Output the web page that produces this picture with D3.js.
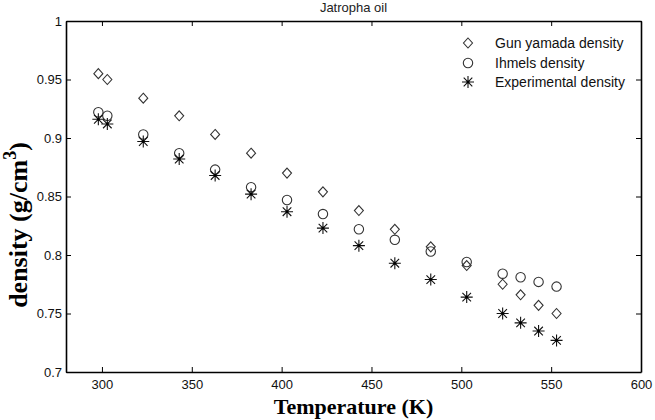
<!DOCTYPE html>
<html>
<head>
<meta charset="utf-8">
<script src="https://cdn.jsdelivr.net/npm/d3@7"></script>
<style>
  body { margin: 0; background: #fff; }
  svg { display: block; }
  .tick text { font-family: "Liberation Sans", Arial, sans-serif; font-size: 13px; fill: #111; }
  .axis path, .axis line { stroke: #000; }
</style>
</head>
<body>
<svg id="chart" width="655" height="420"></svg>
<script>
let WIDTH = 655, HEIGHT = 420;
let M = { top: 21, right: 14, bottom: 48, left: 66 };

// temperatures (K)
const temps = [298, 303, 323, 343, 363, 383, 403, 423, 443, 463, 483, 503, 523, 533, 543, 553];
// densities (g/cm3)
const gunYamada = [0.955, 0.950, 0.934, 0.919, 0.903, 0.887, 0.870, 0.854, 0.838, 0.822, 0.807, 0.791, 0.775, 0.766, 0.757, 0.750];
const ihmels = [0.922, 0.919, 0.903, 0.887, 0.873, 0.858, 0.847, 0.835, 0.822, 0.813, 0.803, 0.794, 0.784, 0.781, 0.777, 0.773];
const experimental = [0.916, 0.912, 0.897, 0.882, 0.868, 0.852, 0.837, 0.823, 0.808, 0.793, 0.779, 0.764, 0.750, 0.742, 0.735, 0.727];

const xTicks = [300, 350, 400, 450, 500, 550, 600];
const yTicks = [0.7, 0.75, 0.8, 0.85, 0.9, 0.95, 1];
const seriesNames = ["Gun yamada density", "Ihmels density", "Experimental density"];

let svg = d3.select("#chart");
let plotW = WIDTH - M.left - M.right;
let plotH = HEIGHT - M.top - M.bottom;

let x = d3.scaleLinear().domain([280, 600]).range([M.left, M.left + plotW]);
let y = d3.scaleLinear().domain([0.7, 1]).range([M.top + plotH, M.top]);

function drawAxes() {
    let fmtY = d3.format("");
    svg.append("g").attr("class", "axis")
        .attr("transform", `translate(0,${M.top + plotH})`)
        .call(d3.axisBottom(x).tickValues(xTicks).tickSizeInner(-5).tickSizeOuter(0).tickPadding(8));
    svg.append("g").attr("class", "axis")
        .attr("transform", `translate(0,${M.top})`)
        .call(d3.axisTop(x).tickValues(xTicks).tickSizeInner(-5).tickSizeOuter(0).tickFormat(""));
    svg.append("g").attr("class", "axis")
        .attr("transform", `translate(${M.left},0)`)
        .call(d3.axisLeft(y).tickValues(yTicks).tickSizeInner(-5).tickSizeOuter(0).tickPadding(4).tickFormat(d => fmtY(+d.toFixed(2))));
    svg.append("g").attr("class", "axis")
        .attr("transform", `translate(${M.left + plotW},0)`)
        .call(d3.axisRight(y).tickValues(yTicks).tickSizeInner(-5).tickSizeOuter(0).tickFormat(""));
    svg.selectAll(".axis path").attr("stroke-width", 1.6);
    svg.selectAll(".axis .tick line").attr("stroke-width", 1);
}

// marker painters
function diamond(g, cx, cy) {
    g.append("path")
        .attr("d", `M${cx},${cy - 5} L${cx + 4.5},${cy} L${cx},${cy + 5} L${cx - 4.5},${cy} Z`)
        .attr("fill", "none").attr("stroke", "#333").attr("stroke-width", 1.1);
}
function circle(g, cx, cy) {
    g.append("circle").attr("cx", cx).attr("cy", cy).attr("r", 4.7)
        .attr("fill", "none").attr("stroke", "#333").attr("stroke-width", 1.1);
}
function star(g, cx, cy) {
    let r = 6, d = 4.3;
    g.append("path")
        .attr("d", `M${cx - r},${cy} H${cx + r} M${cx},${cy - r} V${cy + r} ` +
                   `M${cx - d},${cy - d} L${cx + d},${cy + d} M${cx - d},${cy + d} L${cx + d},${cy - d}`)
        .attr("stroke", "#111").attr("stroke-width", 1.1).attr("fill", "none");
    g.append("circle").attr("cx", cx).attr("cy", cy).attr("r", 1.3).attr("fill", "#000");
}

const painters = [diamond, circle, star];
const seriesData = [gunYamada, ihmels, experimental];

function drawPoints() {
    seriesData.forEach(function (vals, i) {
        let g = svg.append("g").attr("class", "series-" + i);
        temps.forEach(function (t, j) {
            painters[i](g, x(t), y(vals[j]));
        });
    });
}

function drawLegend() {
    let lg = svg.append("g").attr("class", "legend");
    let rows = [43, 63, 82];
    seriesNames.forEach(function (name, i) {
        painters[i](lg, 468, rows[i]);
        lg.append("text")
            .attr("x", 495).attr("y", rows[i] + 5)
            .attr("font-family", "Liberation Sans, Arial, sans-serif")
            .attr("font-size", 14)
            .attr("fill", "#111")
            .text(name);
    });
}

function drawLabels() {
    svg.append("text")
        .attr("x", M.left + plotW / 2).attr("y", 12)
        .attr("text-anchor", "middle")
        .attr("font-family", "Liberation Sans, Arial, sans-serif")
        .attr("font-size", 13)
        .attr("fill", "#222")
        .text("Jatropha oil");

    svg.append("text")
        .attr("x", M.left + plotW / 2).attr("y", 414)
        .attr("text-anchor", "middle")
        .attr("font-family", "Liberation Serif, Times New Roman, serif")
        .attr("font-weight", "bold")
        .attr("font-size", 22)
        .attr("fill", "#000")
        .text("Temperature (K)");

    let yl = svg.append("text")
        .attr("text-anchor", "middle")
        .attr("transform", "translate(27,225) rotate(-90)")
        .attr("font-family", "Liberation Serif, Times New Roman, serif")
        .attr("font-weight", "bold")
        .attr("font-size", 26)
        .attr("fill", "#000");
    yl.append("tspan").text("density (g/cm");
    yl.append("tspan").attr("dy", -11).attr("font-size", 18).text("3");
    yl.append("tspan").attr("dy", 11).text(")");
}

drawAxes();
drawPoints();
drawLegend();
drawLabels();
</script>
</body>
</html>
